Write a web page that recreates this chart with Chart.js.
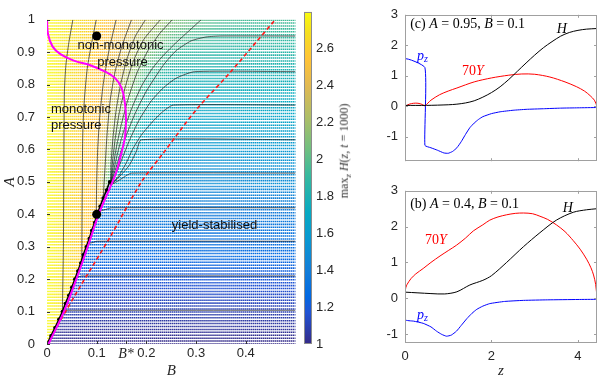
<!DOCTYPE html>
<html>
<head>
<meta charset="utf-8">
<script src="https://cdn.jsdelivr.net/npm/chart.js@4.4.1/dist/chart.umd.min.js"></script>
<style>
  body { margin: 0; background: #fff; width: 598px; height: 382px; position: relative; overflow: hidden; }
  .panel { position: absolute; }
  #cbTitle { position: absolute; left: 345px; top: 151px; transform: translate(-50%, -50%) rotate(-90deg);
             white-space: nowrap; font: 12px "Liberation Serif"; color: #333; }
  #cbTitle sub { font-size: 9px; }
</style>
</head>
<body>
<div class="panel" style="left:0;top:0;width:300px;height:382px"><canvas id="map"></canvas></div>
<div class="panel" style="left:296px;top:0;width:60px;height:382px"><canvas id="cbar"></canvas></div>
<div id="cbTitle">max<sub><i>z</i></sub> <i>H</i>(<i>z</i>, <i>t</i> = 1000)</div>
<div class="panel" style="left:375px;top:0;width:223px;height:176px"><canvas id="panelC"></canvas></div>
<div class="panel" style="left:375px;top:176px;width:223px;height:206px"><canvas id="panelB"></canvas></div>
<script>
// ---- left map: ticks
const aTicks = [0, 0.1, 0.2, 0.3, 0.4, 0.5, 0.6, 0.7, 0.8, 0.9, 1]
const bStar = 0.159
const bTicks = [0, 0.1, bStar, 0.2, 0.3, 0.4]
const cbTicks = [1, 1.2, 1.4, 1.6, 1.8, 2, 2.2, 2.4, 2.6]
const cbarMin = 1
const cbarMax = 2.8

// max_z H on a coarse (B, A) table (left of the yield boundary / upper part)
const fieldB = [0, 0.05, 0.1, 0.15, 0.2, 0.25, 0.3, 0.35, 0.4, 0.45, 0.5]
const fieldA = [0, 0.1, 0.2, 0.3, 0.4, 0.5, 0.6, 0.7, 0.8, 0.9, 1]
const fieldH = [
  [2.8, 2.65, 2.5, 2.35, 2.2, 2.2, 2.2, 2.2, 2.2, 2.2, 2.2],
  [2.8, 2.65, 2.5, 2.35, 2.2, 2.2, 2.2, 2.2, 2.2, 2.2, 2.2],
  [2.8, 2.65, 2.5, 2.35, 2.2, 2.2, 2.2, 2.2, 2.2, 2.2, 2.2],
  [2.8, 2.65, 2.5, 2.35, 2.2, 2.2, 2.2, 2.2, 2.2, 2.2, 2.2],
  [2.8, 2.65, 2.5, 2.35, 2.2, 2.2, 2.2, 2.2, 2.2, 2.2, 2.2],
  [2.8, 2.65, 2.5, 1.5, 1.48, 1.48, 1.48, 1.48, 1.48, 1.48, 1.48],
  [2.8, 2.65, 2.51, 1.9, 1.59, 1.57, 1.57, 1.57, 1.57, 1.57, 1.57],
  [2.8, 2.66, 2.52, 2.13, 1.77, 1.68, 1.67, 1.67, 1.67, 1.67, 1.67],
  [2.8, 2.67, 2.54, 2.28, 1.9, 1.78, 1.77, 1.76, 1.76, 1.76, 1.76],
  [2.8, 2.68, 2.56, 2.38, 2.11, 1.94, 1.88, 1.86, 1.86, 1.86, 1.86],
  [2.8, 2.7, 2.6, 2.46, 2.29, 2.11, 2.03, 1.97, 1.95, 1.95, 1.95]
]
// yield-stabilised side: max_z H depends on A only
const hRight = [1.0, 1.09, 1.19, 1.29, 1.38, 1.48, 1.57, 1.67, 1.76, 1.86, 1.95]

// boundary (black line with dots)
const boundB = [0, 0.008, 0.016, 0.024, 0.031, 0.037, 0.044, 0.05, 0.056, 0.062, 0.068, 0.073, 0.079, 0.085, 0.09, 0.096, 0.101, 0.107, 0.113, 0.12, 0.126]
const boundA = [0, 0.025, 0.05, 0.076, 0.1, 0.125, 0.15, 0.175, 0.2, 0.225, 0.25, 0.275, 0.3, 0.325, 0.35, 0.375, 0.4, 0.425, 0.45, 0.475, 0.5]

// magenta curve
const magB = [0.003, 0.034, 0.059, 0.082, 0.104, 0.129, 0.14, 0.15, 0.157, 0.159, 0.157, 0.15, 0.137, 0.117, 0.087, 0.054, 0.027, 0.011, 0.002, 0]
const magA = [0, 0.1, 0.2, 0.3, 0.4, 0.49, 0.533, 0.59, 0.64, 0.69, 0.74, 0.79, 0.82, 0.84, 0.86, 0.874, 0.894, 0.918, 0.956, 1]

// red dashed curve
const redB = [0, 0.06, 0.127, 0.19, 0.234, 0.3, 0.367, 0.459]
const redA = [0, 0.16, 0.33, 0.5, 0.589, 0.722, 0.835, 1]

// big markers
const dotB = [0.1, 0.1]
const dotA = [0.95, 0.4]

// contour lines, [B, A] pairs
const c27 = [[0.031, 0.1], [0.033, 0.3], [0.034, 0.6], [0.035, 0.78], [0.038, 0.86], [0.044, 0.93], [0.052, 1]]
const c26 = [[0.07, 0.257], [0.071, 0.5], [0.072, 0.65], [0.075, 0.75], [0.081, 0.85], [0.09, 0.93], [0.099, 1]]
const c25 = [[0.099, 0.39], [0.1, 0.5], [0.102, 0.6], [0.106, 0.7], [0.113, 0.8], [0.124, 0.9], [0.139, 1]]
const c24 = [[0.113, 0.45], [0.117, 0.55], [0.121, 0.65], [0.127, 0.75], [0.137, 0.84], [0.151, 0.92], [0.17, 1]]
const c23 = [[0.128, 0.49], [0.129, 0.56], [0.133, 0.64], [0.139, 0.72], [0.148, 0.8], [0.161, 0.88], [0.178, 0.95], [0.198, 1]]
const c22 = [[0.128, 0.49], [0.131, 0.55], [0.137, 0.63], [0.145, 0.71], [0.157, 0.79], [0.173, 0.87], [0.195, 0.94], [0.228, 1]]
const c21 = [[0.128, 0.49], [0.133, 0.545], [0.14, 0.61], [0.15, 0.68], [0.164, 0.76], [0.182, 0.84], [0.205, 0.91], [0.228, 0.96], [0.252, 1]]
const c20 = [[0.128, 0.49], [0.135, 0.54], [0.143, 0.595], [0.154, 0.655], [0.17, 0.725], [0.19, 0.795], [0.212, 0.85], [0.234, 0.89], [0.26, 0.93], [0.285, 0.965], [0.31, 1]]
const c19 = [[0.128, 0.49], [0.137, 0.535], [0.147, 0.585], [0.16, 0.645], [0.177, 0.71], [0.2, 0.78], [0.234, 0.86], [0.26, 0.905], [0.29, 0.935], [0.32, 0.947], [0.35, 0.95], [0.5, 0.95]]
const c18 = [[0.128, 0.49], [0.14, 0.53], [0.152, 0.575], [0.165, 0.625], [0.185, 0.69], [0.21, 0.75], [0.234, 0.79], [0.26, 0.82], [0.297, 0.84], [0.5, 0.84]]
const c17 = [[0.128, 0.49], [0.145, 0.52], [0.16, 0.56], [0.172, 0.6], [0.19, 0.645], [0.215, 0.69], [0.234, 0.718], [0.254, 0.737], [0.5, 0.737]]
const c16 = [[0.128, 0.49], [0.145, 0.515], [0.165, 0.55], [0.18, 0.595], [0.19, 0.63], [0.5, 0.63]]
const c15 = [[0.128, 0.49], [0.145, 0.505], [0.158, 0.518], [0.17, 0.527], [0.5, 0.527]]
const c14 = [[0.107, 0.41], [0.118, 0.415], [0.13, 0.42], [0.5, 0.42]]
const c13 = [[0.083, 0.31], [0.092, 0.313], [0.1, 0.317], [0.5, 0.317]]
const c12 = [[0.058, 0.205], [0.065, 0.208], [0.07, 0.21], [0.5, 0.21]]
const c11 = [[0.032, 0.104], [0.5, 0.104]]
const contours = [c27, c26, c25, c24, c23, c22, c21, c20, c19, c18, c17, c16, c15, c14, c13, c12, c11]

// sampling grid of the dotted background
const gridStepB = 0.004
const gridStepA = 0.009

// ---- right panels
const zTicks = [0, 2, 4]
const yTicks = [-1, 0, 1, 2, 3]

// (c) A = 0.95, B = 0.1
const cHz = [0, 0.5, 1.0, 1.2, 1.4, 1.6, 1.8, 2.0, 2.2, 2.4, 2.6, 2.8, 3.0, 3.2, 3.4, 3.6, 3.8, 4.0, 4.2, 4.44]
const cH = [0.03, 0.03, 0.05, 0.07, 0.11, 0.18, 0.3, 0.45, 0.64, 0.88, 1.15, 1.42, 1.68, 1.92, 2.12, 2.3, 2.42, 2.49, 2.53, 2.55]
const cYz = [0, 0.1, 0.2, 0.3, 0.4, 0.46, 0.6, 0.8, 1.0, 1.2, 1.6, 2.0, 2.4, 2.7, 3.0, 3.35, 3.7, 3.97, 4.15, 4.28, 4.38, 4.44]
const cY = [0, 0.07, 0.1, 0.1, 0.06, 0.02, 0.2, 0.38, 0.5, 0.6, 0.8, 0.93, 1.02, 1.06, 1.05, 0.96, 0.8, 0.64, 0.5, 0.35, 0.2, 0]
const cPz = [0, 0, 0.46, 0.46, 0.6, 0.75, 0.9, 1.0, 1.1, 1.2, 1.3, 1.4, 1.5, 1.6, 1.7, 1.8, 2.0, 2.2, 2.5, 2.8, 3.2, 3.6, 4.0, 4.44]
const cP = [0, 1.55, 1.27, -1.28, -1.36, -1.44, -1.53, -1.54, -1.48, -1.36, -1.16, -0.92, -0.7, -0.55, -0.43, -0.34, -0.24, -0.18, -0.13, -0.1, -0.08, -0.06, -0.05, -0.04]

// (b) A = 0.4, B = 0.1
const bHz = [0, 0.3, 0.6, 0.92, 1.2, 1.5, 1.8, 2.0, 2.35, 2.74, 3.12, 3.5, 3.89, 4.2, 4.44]
const bH = [0.17, 0.15, 0.13, 0.12, 0.18, 0.37, 0.5, 0.63, 1.0, 1.44, 1.83, 2.18, 2.4, 2.47, 2.5]
const bYz = [0, 0.02, 0.05, 0.14, 0.25, 0.42, 0.6, 0.81, 1.0, 1.19, 1.4, 1.58, 1.8, 1.96, 2.15, 2.35, 2.55, 2.74, 2.95, 3.12, 3.3, 3.5, 3.7, 3.89, 4.05, 4.2, 4.3, 4.36, 4.41, 4.44]
const bY = [0.17, 0.3, 0.39, 0.55, 0.68, 0.83, 1.0, 1.18, 1.33, 1.48, 1.68, 1.88, 2.05, 2.18, 2.27, 2.33, 2.37, 2.38, 2.36, 2.29, 2.2, 2.05, 1.86, 1.61, 1.37, 1.09, 0.85, 0.65, 0.38, 0]
const bPz = [0, 0, 0.2, 0.42, 0.6, 0.73, 0.85, 0.96, 1.07, 1.19, 1.3, 1.43, 1.55, 1.66, 1.8, 1.96, 2.3, 2.74, 3.3, 4.0, 4.44]
const bP = [0, -0.6, -0.64, -0.7, -0.8, -0.92, -1.01, -1.06, -1.03, -0.92, -0.76, -0.57, -0.42, -0.31, -0.22, -0.15, -0.09, -0.06, -0.045, -0.035, -0.03]

// parula colour map anchors
const parulaT = [0, 0.0952, 0.1429, 0.2222, 0.3175, 0.3968, 0.5079, 0.5873, 0.6825, 0.7778, 0.8571, 0.9365, 1]
const parulaRGB = [
  [0.2081, 0.1663, 0.5292], [0.1253, 0.3242, 0.8303], [0.0060, 0.4086, 0.8828], [0.0723, 0.4887, 0.8467],
  [0.0343, 0.5966, 0.8199], [0.0267, 0.6642, 0.7607], [0.2178, 0.7250, 0.6193], [0.4420, 0.7481, 0.5033],
  [0.6834, 0.7435, 0.4044], [0.8824, 0.7274, 0.3217], [0.9990, 0.7653, 0.2164], [0.9626, 0.8705, 0.1309],
  [0.9763, 0.9831, 0.0538]
]

const SANS = '"Liberation Sans", Arial, sans-serif'
const SERIF = '"Liberation Serif", "DejaVu Serif", serif'
const INK = '#262626'
Chart.defaults.font.family = SANS
Chart.defaults.color = INK

function rgb (c) {
  return 'rgb(' + Math.round(c[0] * 255) + ',' + Math.round(c[1] * 255) + ',' + Math.round(c[2] * 255) + ')'
}

function parula (v) {
  let t = (v - cbarMin) / (cbarMax - cbarMin)
  t = Math.max(0, Math.min(1, t))
  let i = 0
  while (i < parulaT.length - 2 && t > parulaT[i + 1]) i++
  const f = (t - parulaT[i]) / (parulaT[i + 1] - parulaT[i])
  const a = parulaRGB[i], b = parulaRGB[i + 1]
  return rgb([a[0] + (b[0] - a[0]) * f, a[1] + (b[1] - a[1]) * f, a[2] + (b[2] - a[2]) * f])
}

function lookup (xs, ys, x) {
  if (x <= xs[0]) return ys[0]
  for (let i = 1; i < xs.length; i++) {
    if (x <= xs[i]) return ys[i - 1] + (ys[i] - ys[i - 1]) * (x - xs[i - 1]) / (xs[i] - xs[i - 1])
  }
  return ys[ys.length - 1]
}

function fieldAt (b, a) {
  if (a < 0.49 && b > lookup(boundA, boundB, a)) return lookup(fieldA, hRight, a)
  const i = Math.min(fieldA.length - 2, Math.floor(a / 0.1 + 1e-9))
  const j = Math.min(fieldB.length - 2, Math.floor(b / 0.05 + 1e-9))
  const fa = (a - fieldA[i]) / (fieldA[i + 1] - fieldA[i])
  const fb = (b - fieldB[j]) / (fieldB[j + 1] - fieldB[j])
  const top = fieldH[i + 1][j] + (fieldH[i + 1][j + 1] - fieldH[i + 1][j]) * fb
  const bot = fieldH[i][j] + (fieldH[i][j + 1] - fieldH[i][j]) * fb
  return bot + (top - bot) * fa
}

const pairs = (xs, ys) => xs.map((x, i) => ({ x: x, y: ys[i] }))
const fixedTicks = list => scale => { scale.ticks = list.map(v => ({ value: v })) }

// background dots, column by column so the data stays sorted on x
const gridPts = []
const gridCols = []
for (let j = 0; j * gridStepB <= 0.5001; j++) {
  for (let i = 0; i * gridStepA <= 1.0001; i++) {
    const a = i * gridStepA, b = j * gridStepB
    gridPts.push({ x: b, y: a })
    gridCols.push(parula(fieldAt(b, a)))
  }
}

// plugins
function boxPlugin (color) {
  return {
    id: 'box',
    afterDraw (chart) {
      const { ctx, chartArea: ca } = chart
      ctx.save()
      ctx.strokeStyle = color
      ctx.lineWidth = 1
      ctx.strokeRect(Math.round(ca.left) + 0.5, Math.round(ca.top) + 0.5, Math.round(ca.right - ca.left) - 1, Math.round(ca.bottom - ca.top) - 1)
      ctx.restore()
    }
  }
}

function innerTicks (color, len, sides) {
  return {
    id: 'innerTicks',
    afterDraw (chart) {
      const { ctx, chartArea: ca, scales } = chart
      ctx.save()
      ctx.strokeStyle = color
      ctx.lineWidth = 1
      ctx.beginPath()
      scales.x.ticks.forEach(t => {
        const px = Math.round(scales.x.getPixelForValue(t.value)) + 0.5
        if (sides.includes('b')) { ctx.moveTo(px, ca.bottom); ctx.lineTo(px, ca.bottom - len) }
        if (sides.includes('t')) { ctx.moveTo(px, ca.top); ctx.lineTo(px, ca.top + len) }
      })
      scales.y.ticks.forEach(t => {
        const py = Math.round(scales.y.getPixelForValue(t.value)) + 0.5
        if (sides.includes('l')) { ctx.moveTo(ca.left, py); ctx.lineTo(ca.left + len, py) }
        if (sides.includes('r')) { ctx.moveTo(ca.right, py); ctx.lineTo(ca.right - len, py) }
      })
      ctx.stroke()
      ctx.restore()
    }
  }
}

function drawParts (ctx, x, y, parts, align) {
  let w = 0
  parts.forEach(p => { ctx.font = p.f; w += ctx.measureText(p.t).width })
  let cx = align === 'center' ? x - w / 2 : x
  parts.forEach(p => {
    ctx.font = p.f
    ctx.fillStyle = p.c
    ctx.fillText(p.t, cx, y + (p.dy || 0))
    cx += ctx.measureText(p.t).width
  })
}

function notesPlugin (items) {
  return {
    id: 'notes',
    afterDatasetsDraw (chart) {
      const { ctx, scales } = chart
      ctx.save()
      ctx.textBaseline = 'middle'
      items.forEach(it => drawParts(ctx, scales.x.getPixelForValue(it.x), scales.y.getPixelForValue(it.y), it.parts, it.align))
      ctx.restore()
    }
  }
}

const sans13 = '13px ' + SANS
const it14 = 'italic 14px ' + SERIF
const rm14 = '14px ' + SERIF
const it10 = 'italic 10px ' + SERIF
const plain = (t, c) => [{ t: t, f: sans13, c: c || '#111' }]
const noGrid = { display: false, drawTicks: false }

// ---- left map
const mapDatasets = [
  { data: pairs(dotB, dotA), pointRadius: 4.5, pointBackgroundColor: '#000', pointBorderWidth: 0, showLine: false },
  { data: pairs(magB, magA), showLine: true, borderColor: '#ff00ff', borderWidth: 2, pointRadius: 0, tension: 0.4 },
  { data: pairs(boundB, boundA), showLine: true, borderColor: '#000', borderWidth: 1.6, pointRadius: 1.8, pointBackgroundColor: '#000', pointBorderWidth: 0 },
  { data: pairs(redB, redA), showLine: true, borderColor: '#ff1a1a', borderWidth: 1.6, borderDash: [4, 3], pointRadius: 0, tension: 0.3 }
]
contours.forEach(c => mapDatasets.push({
  data: c.map(p => ({ x: p[0], y: p[1] })), showLine: true, borderColor: 'rgba(25,25,25,0.85)', borderWidth: 0.8, pointRadius: 0, tension: 0.2
}))
mapDatasets.push({
  data: gridPts, showLine: false, pointStyle: 'rect', pointRadius: 1.1,
  pointBackgroundColor: gridCols, pointBorderWidth: 0
})

new Chart(document.getElementById('map'), {
  type: 'scatter',
  data: { datasets: mapDatasets },
  options: {
    responsive: true,
    maintainAspectRatio: false,
    animation: false,
    events: [],
    layout: { padding: { top: 6, right: 1, left: 0, bottom: 0 } },
    plugins: { legend: { display: false }, tooltip: { enabled: false } },
    scales: {
      x: {
        type: 'linear', min: 0, max: 0.5,
        afterBuildTicks: fixedTicks(bTicks),
        afterFit: s => { s.height = 38 },
        grid: noGrid, border: { display: false },
        ticks: {
          autoSkip: false, maxRotation: 0, padding: 2,
          font: c => (c.tick && c.tick.value === bStar) ? { family: SERIF, style: 'italic', size: 14 } : { family: SANS, size: 13 },
          callback: v => v === bStar ? 'B*' : String(v)
        },
        title: { display: true, text: 'B', font: { family: SERIF, style: 'italic', size: 15 }, padding: { top: 0, bottom: 2 } }
      },
      y: {
        min: 0, max: 1,
        afterBuildTicks: fixedTicks(aTicks),
        afterFit: s => { s.width = 47 },
        grid: noGrid, border: { display: false },
        ticks: { autoSkip: false, padding: 12, font: { size: 13 }, callback: v => String(v) },
        title: { display: true, text: 'A', font: { family: SERIF, style: 'italic', size: 15 }, padding: { top: 1, bottom: 0 } }
      }
    }
  },
  plugins: [
    innerTicks('#333', 3, 'bl'),
    notesPlugin([
      { x: 0.148, y: 0.92, align: 'center', parts: plain('non-monotonic') },
      { x: 0.152, y: 0.87, align: 'center', parts: plain('pressure') },
      { x: 0.008, y: 0.725, align: 'left', parts: plain('monotonic') },
      { x: 0.008, y: 0.675, align: 'left', parts: plain('pressure') },
      { x: 0.337, y: 0.367, align: 'center', parts: plain('yield-stabilised') }
    ])
  ]
})

// ---- colour bar
new Chart(document.getElementById('cbar'), {
  type: 'bar',
  data: {
    labels: ['H'],
    datasets: [{
      data: [[cbarMin, cbarMax]],
      borderWidth: 0,
      barPercentage: 1,
      categoryPercentage: 1,
      backgroundColor (c) {
        const chart = c.chart
        if (!chart.chartArea) return parula(1.9)
        const y = chart.scales.y
        const g = chart.ctx.createLinearGradient(0, y.getPixelForValue(cbarMin), 0, y.getPixelForValue(cbarMax))
        parulaT.forEach((t, i) => g.addColorStop(t, rgb(parulaRGB[i])))
        return g
      }
    }]
  },
  options: {
    responsive: true,
    maintainAspectRatio: false,
    animation: false,
    events: [],
    layout: { padding: { left: 8, top: 6, bottom: 38, right: 0 } },
    plugins: { legend: { display: false }, tooltip: { enabled: false } },
    scales: {
      x: { display: false },
      y: {
        position: 'right', min: cbarMin, max: cbarMax,
        afterBuildTicks: fixedTicks(cbTicks),
        afterFit: s => { s.width = 44 },
        grid: noGrid, border: { display: false },
        ticks: { autoSkip: false, padding: 4, font: { size: 13 }, callback: v => String(v) }
      }
    }
  },
  plugins: [boxPlugin('#8c8c8c')]
})

// ---- right panels
function linePanel (id, ser, yMin, showX, pad, notes) {
  return new Chart(document.getElementById(id), {
    type: 'scatter',
    data: {
      datasets: [
        { data: pairs(ser[0], ser[1]), showLine: true, borderColor: '#000', borderWidth: 1, pointRadius: 0, tension: 0.3 },
        { data: pairs(ser[2], ser[3]), showLine: true, borderColor: '#ff0000', borderWidth: 1, pointRadius: 0, tension: 0.3 },
        { data: pairs(ser[4], ser[5]), showLine: true, borderColor: '#0000ff', borderWidth: 1, pointRadius: 0, tension: 0.15 }
      ]
    },
    options: {
      responsive: true,
      maintainAspectRatio: false,
      animation: false,
      events: [],
      layout: { padding: pad },
      plugins: { legend: { display: false }, tooltip: { enabled: false } },
      scales: {
        x: {
          type: 'linear', min: 0, max: 4.44, display: true,
          afterBuildTicks: fixedTicks(zTicks),
          afterFit: s => { s.height = showX ? 39 : 0 },
          grid: noGrid, border: { display: false },
          ticks: { display: showX, autoSkip: false, maxRotation: 0, padding: 6, font: { size: 13 }, callback: v => String(v) },
          title: { display: showX, text: 'z', font: { family: SERIF, style: 'italic', size: 15 }, padding: { top: 0, bottom: 2 } }
        },
        y: {
          min: yMin, max: 3,
          afterBuildTicks: fixedTicks(yTicks),
          afterFit: s => { s.width = 30 },
          grid: noGrid, border: { display: false },
          ticks: { autoSkip: false, padding: 7, font: { size: 13 }, callback: v => String(v) }
        }
      }
    },
    plugins: [boxPlugin('#a0a0a0'), innerTicks('#a0a0a0', 3, 'btlr'), notesPlugin(notes)]
  })
}

linePanel('panelC', [cHz, cH, cYz, cY, cPz, cP], -1.8, false, { top: 6, bottom: 5, left: 0, right: 1 }, [
  { x: 0.12, y: 2.69, align: 'left', parts: [
    { t: '(c) ', f: rm14, c: '#000' }, { t: 'A', f: it14, c: '#000' }, { t: ' = 0.95, ', f: rm14, c: '#000' },
    { t: 'B', f: it14, c: '#000' }, { t: ' = 0.1', f: rm14, c: '#000' }] },
  { x: 3.51, y: 2.54, align: 'left', parts: [{ t: 'H', f: it14, c: '#000' }] },
  { x: 0.28, y: 1.64, align: 'left', parts: [{ t: 'p', f: it14, c: '#0000ff' }, { t: 'z', f: it10, c: '#0000ff', dy: 3 }] },
  { x: 1.32, y: 1.14, align: 'left', parts: [{ t: '70', f: rm14, c: '#ff0000' }, { t: 'Y', f: it14, c: '#ff0000' }] }
])

linePanel('panelB', [bHz, bH, bYz, bY, bPz, bP], -1.25, true, { top: 3, bottom: 0, left: 0, right: 1 }, [
  { x: 0.12, y: 2.63, align: 'left', parts: [
    { t: '(b) ', f: rm14, c: '#000' }, { t: 'A', f: it14, c: '#000' }, { t: ' = 0.4, ', f: rm14, c: '#000' },
    { t: 'B', f: it14, c: '#000' }, { t: ' = 0.1', f: rm14, c: '#000' }] },
  { x: 3.65, y: 2.5, align: 'left', parts: [{ t: 'H', f: it14, c: '#000' }] },
  { x: 0.28, y: -0.47, align: 'left', parts: [{ t: 'p', f: it14, c: '#0000ff' }, { t: 'z', f: it10, c: '#0000ff', dy: 3 }] },
  { x: 0.46, y: 1.63, align: 'left', parts: [{ t: '70', f: rm14, c: '#ff0000' }, { t: 'Y', f: it14, c: '#ff0000' }] }
])
</script>
</body>
</html>
